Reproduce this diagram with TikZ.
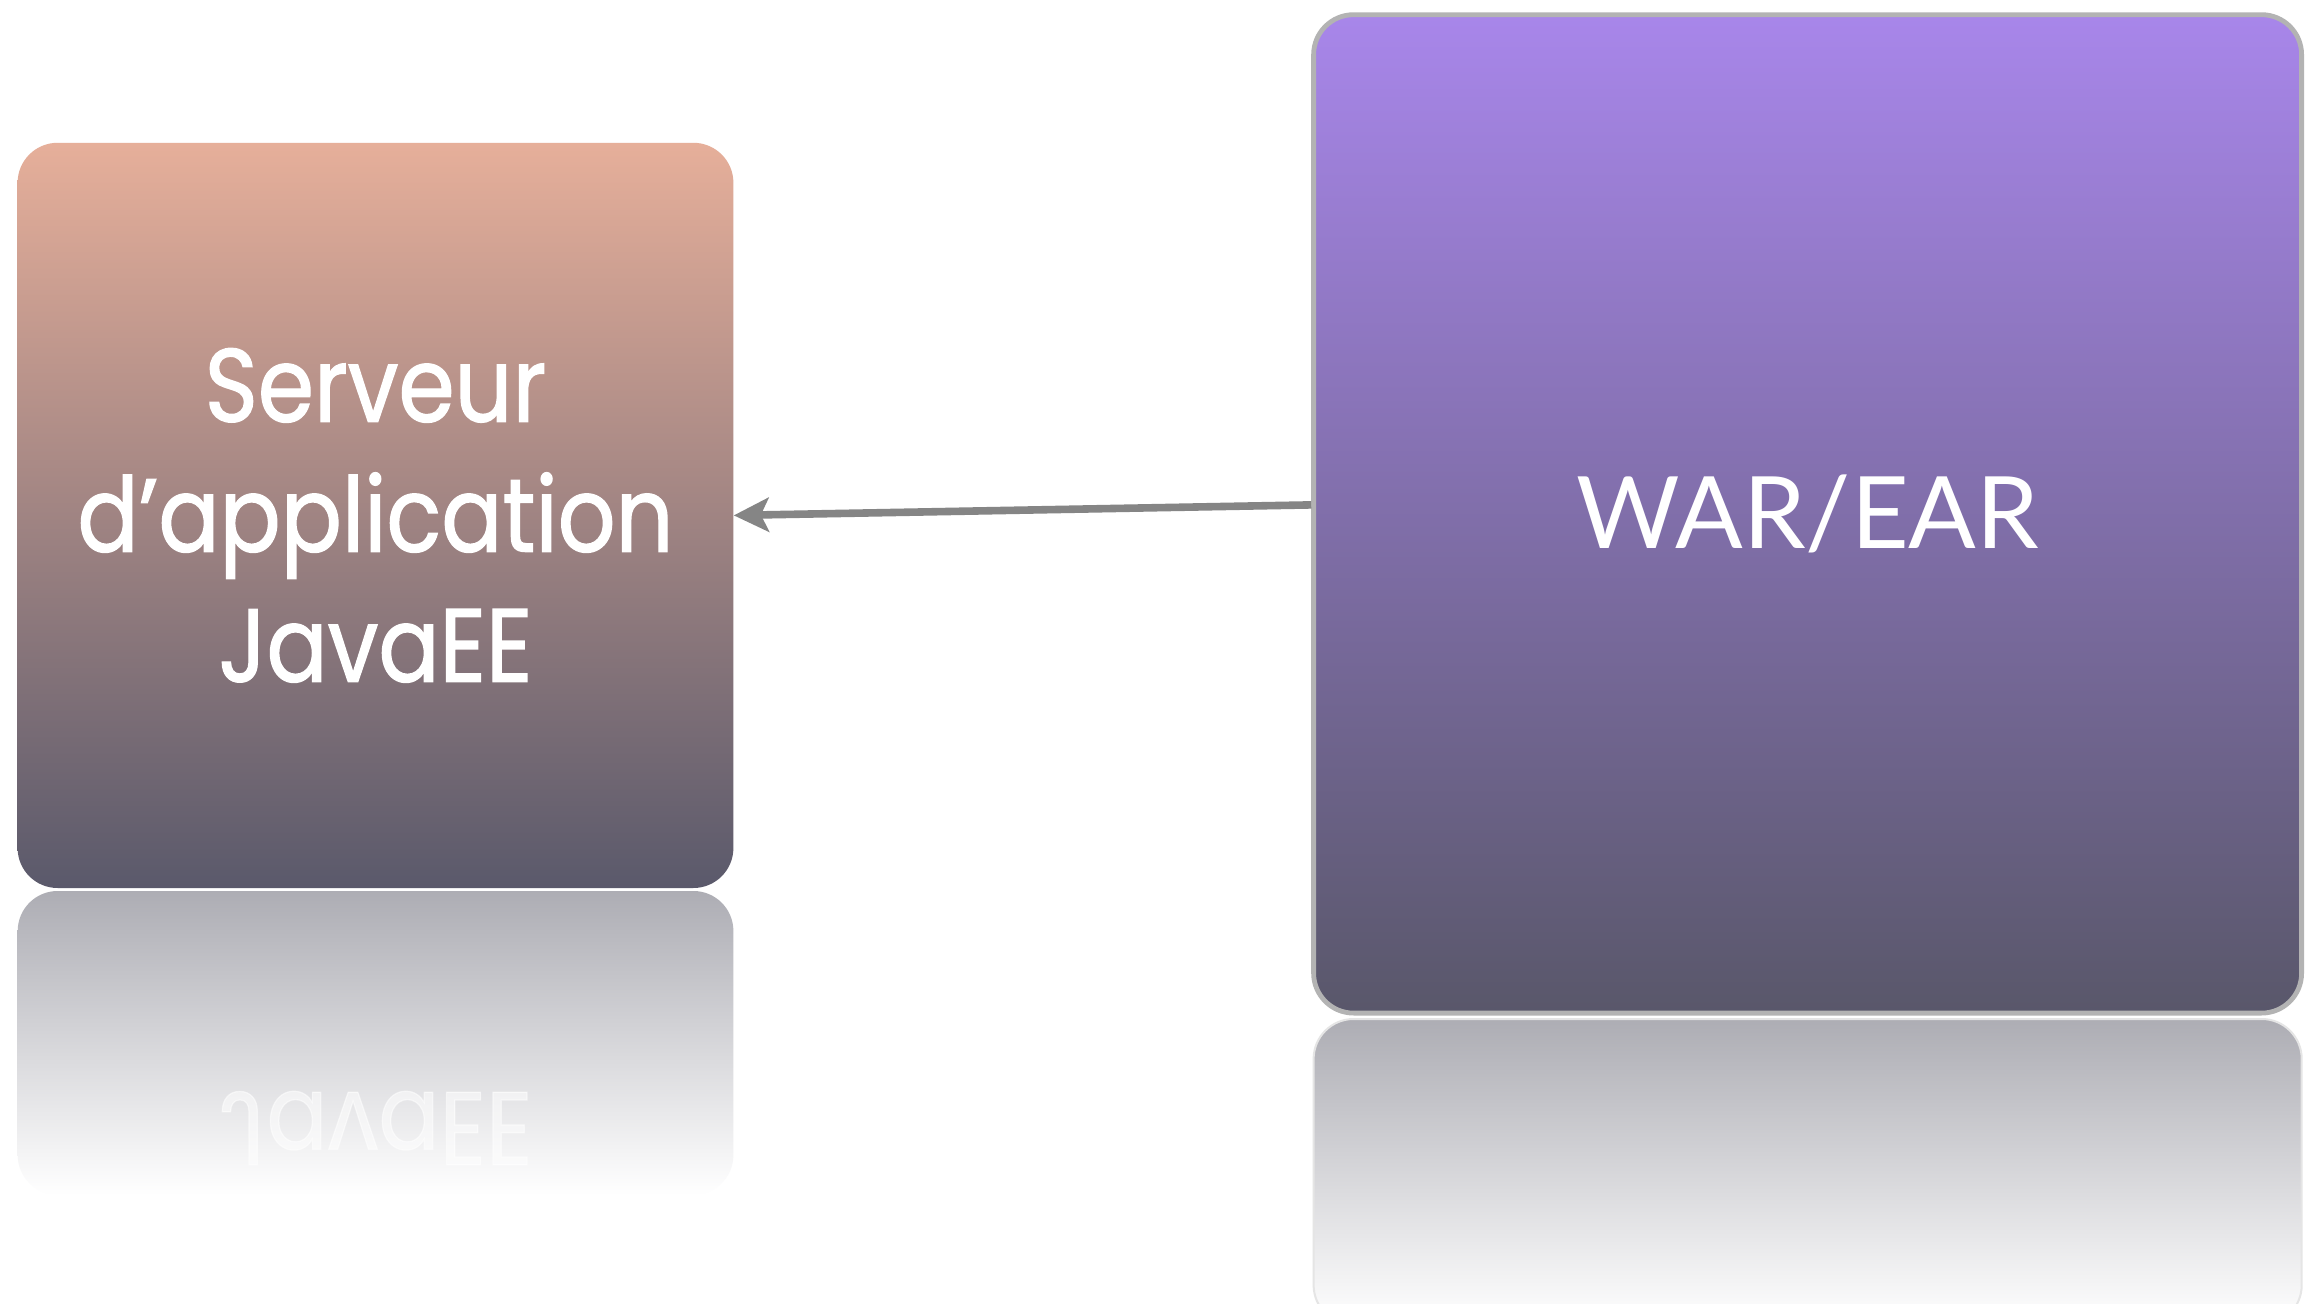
\documentclass[tikz,border=0pt]{standalone}
\usepackage{fontspec}
\setmainfont{Poppins}
\newfontfamily\srvfont[FakeStretch=0.87,FakeBold=1.2]{Poppins}
\newfontfamily\warfont{Lato}
\usetikzlibrary{arrows.meta}
\definecolor{srvtop}{HTML}{E6AF9A}
\definecolor{srvbot}{HTML}{5A596B}
\definecolor{wartop}{HTML}{A886EA}
\definecolor{warmid}{HTML}{8470B8}
\definecolor{warbot}{HTML}{59576A}
\definecolor{warborder}{HTML}{B3B3B3}
\definecolor{reflgray}{HTML}{ADADB4}
\definecolor{reflmid}{HTML}{E6E5E9}
\definecolor{arrgray}{HTML}{858585}
\tikzset{
  boxbase/.style={rounded corners=20pt, inner sep=0pt, text=white, align=center},
  reflbox/.style={rounded corners=20pt, top color=reflgray, middle color=reflmid, bottom color=white},
  arr/.style={draw=arrgray, line width=3.8pt, -{Stealth[length=17.5pt,width=17pt,inset=4pt]}}
}
\begin{document}
\begin{tikzpicture}[x=0.5pt,y=-0.5pt]
\useasboundingbox (0,0) rectangle (2309,1304);
\fill[white] (0,0) rectangle (2309,1304);
% reflections
\shade[reflbox] (17.7,1195) -- (17.7,891) -- (733.4,891) -- (733.4,1195) -- cycle;
\node[text=white, opacity=0.55, font=\srvfont\fontsize{52}{65}\selectfont] (srvrefl) at (375.5,1128) {\scalebox{1}[-1]{JavaEE}};
\shade[reflbox, draw=white!90!black, line width=1pt] (1313.6,1325) -- (1313.6,1019) -- (2301.7,1019) -- (2301.7,1325) -- cycle;
% boxes
\node[boxbase, top color=srvtop, bottom color=srvbot, minimum width=357.9pt, minimum height=372.6pt,
      font=\srvfont\fontsize{52}{65}\selectfont] (srv) at (375.5,515.4) {Serveur\\d’application\\JavaEE};
\node[boxbase, draw=warborder, line width=2.4pt, top color=wartop, middle color=warmid, bottom color=warbot,
      minimum width=494pt, minimum height=499.2pt, font=\warfont\fontsize{50}{60}\selectfont] (war) at (1807.6,513.9) {WAR/EAR};
% connector
\draw[arr] ([yshift=4.5pt]war.west) -- (srv.east);
\end{tikzpicture}
\end{document}
